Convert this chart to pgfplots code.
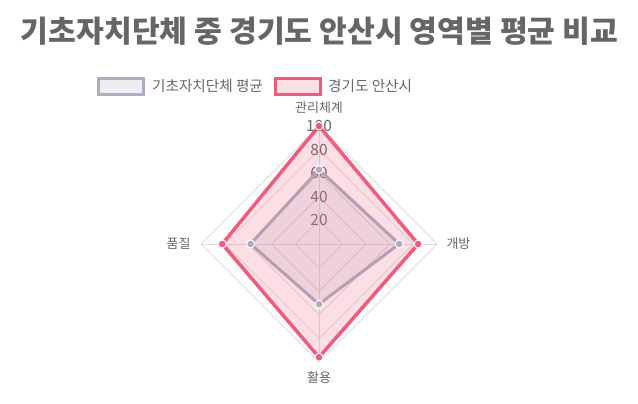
\documentclass[border=0pt]{standalone}
\usepackage{fontspec}
\setmainfont{Noto Sans CJK KR}
\usepackage{pgfplots}
\pgfplotsset{compat=1.18}

\definecolor{titlegray}{HTML}{666666}
\definecolor{gridgray}{HTML}{DDDDDD}
\definecolor{avgline}{RGB}{172,174,196}
\definecolor{cityline}{RGB}{240,92,124}

\begin{document}
\begin{tikzpicture}[x=1pt,y=1pt]
\useasboundingbox (0,0) rectangle (638,404);
% title
\node[font=\fontsize{30.2}{36}\selectfont\bfseries, text=titlegray] at (319.5,373) {기초자치단체 중 경기도 안산시 영역별 평균 비교};
% legend
\draw[line width=3pt, draw=avgline, fill=avgline!22] (98.5,309.5) rectangle (143.5,325.5);
\node[anchor=west, inner sep=0pt, font=\fontsize{14.6}{16}\selectfont, text=titlegray] at (152,317.5) {기초자치단체 평균};
\draw[line width=3pt, draw=cityline, fill=cityline!20] (275.5,309.5) rectangle (320.5,325.5);
\node[anchor=west, inner sep=0pt, font=\fontsize{14.6}{16}\selectfont, text=titlegray] at (328,317.5) {경기도 안산시};

\begin{axis}[
    at={(319pt,160pt)}, anchor=origin,
    scale only axis, width=236pt, height=236pt,
    xmin=-100, xmax=100, ymin=-100, ymax=100,
    hide axis, clip=false,
    gridline/.style={gridgray, line width=0.8pt, forget plot},
]
% grid
\pgfplotsinvokeforeach{20,40,60,80,100}{
  \addplot[gridline, data cs=polar] coordinates {(90,#1) (0,#1) (270,#1) (180,#1)} -- cycle;
}
\addplot[gridline] coordinates {(0,-100) (0,100)};
\addplot[gridline] coordinates {(-100,0) (100,0)};
% radial tick labels
\pgfplotsinvokeforeach{20,40,60,80,100}{
  \node[font=\fontsize{15.5}{17}\selectfont, text=titlegray] at (axis cs:0,#1) {#1};
}
% axis labels
\node[font=\fontsize{13}{14}\selectfont, text=titlegray, anchor=south] at (axis cs:0,100) [yshift=9pt] {관리체계};
\node[font=\fontsize{13}{14}\selectfont, text=titlegray, anchor=west] at (axis cs:100,0) [xshift=6pt] {개방};
\node[font=\fontsize{13}{14}\selectfont, text=titlegray, anchor=north] at (axis cs:0,-100) [yshift=-6pt] {활용};
\node[font=\fontsize{13}{14}\selectfont, text=titlegray, anchor=east] at (axis cs:-100,0) [xshift=-7pt] {품질};
% data: (angle, value); 관리체계 90, 개방 0, 활용 270, 품질 180
\addplot[data cs=polar, draw=avgline, line width=3pt, fill=avgline, fill opacity=0.2, draw opacity=1,
  mark=*, mark size=4pt, mark options={fill=avgline, draw=white, line width=1pt, fill opacity=1}]
  coordinates {(90,63) (0,68) (270,51) (180,58)} -- cycle;
\addplot[data cs=polar, draw=cityline, line width=3.5pt, fill=cityline, fill opacity=0.2, draw opacity=1,
  mark=*, mark size=4pt, mark options={fill=cityline, draw=white, line width=1pt, fill opacity=1}]
  coordinates {(90,100) (0,84) (270,96) (180,82)} -- cycle;
\end{axis}
\end{tikzpicture}
\end{document}
